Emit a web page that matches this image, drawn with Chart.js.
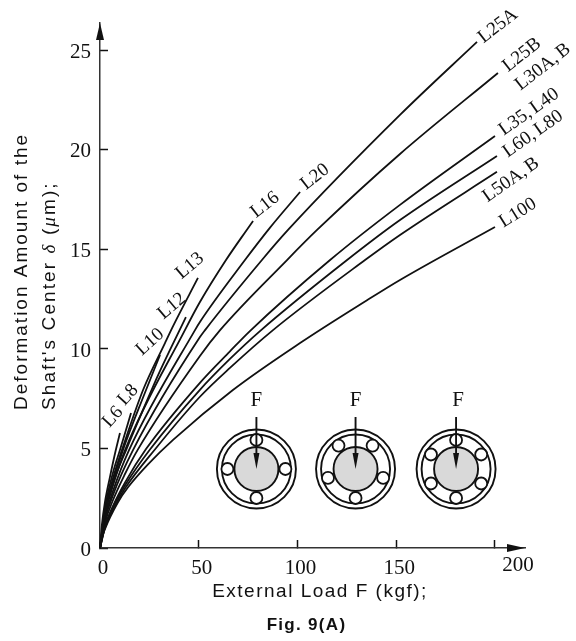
<!DOCTYPE html>
<html><head><meta charset="utf-8">
<style>html,body{margin:0;padding:0;background:#fff}canvas{display:block}</style>
<script src="https://cdn.jsdelivr.net/npm/chart.js@4"></script>
</head><body><canvas id="c" width="576" height="641"></canvas>
<script>
// Values (external load in kgf, deformation in micrometres)
const xL6  = [0,1,2.5,5,7.6,10.1];
const yL6  = [0,1.2,2.3,3.55,4.75,5.78];
const xL8  = [0,2.5,6.6,10.1,15.7];
const yL8  = [0,1.98,3.79,4.92,6.78];
const xL10 = [0,2.5,6.6,11.6,22.3,30.4];
const yL10 = [0,1.75,3.35,4.92,7.69,9.7];
const xL12 = [0,2.5,6.6,13.2,26.8,30.4,43.5];
const yL12 = [0,1.71,3.25,4.92,8.1,8.9,11.6];
const xL13 = [0,2.5,6.6,11.1,21.8,32.9,37,49.6];
const yL13 = [0,1.83,3.5,4.92,7.94,10.3,11.15,13.57];
const xL16 = [0,2.5,6.6,12.7,43,50.6,63.8,74.3,77.5];
const yL16 = [0,1.65,3.15,4.92,10.95,12.36,14.47,15.98,16.43];
const xL20 = [0,2.5,6.6,14.7,48.1,50.6,73.4,86.1,101.3];
const yL20 = [0,1.5,2.87,4.92,10.95,11.36,14.47,16.1,17.89];
const xL25A = [0,2.5,6.6,16.7,50.6,53.2,82,95.2,151.9,190.9];
const yL25A = [0,1.39,2.67,4.92,10.6,10.95,14.47,15.98,21.76,25.43];
const xL25B = [0,2.5,6.6,12.7,19,50.6,60.8,94.7,109.9,151.9,201.5];
const yL25B = [0,1.26,2.41,3.73,4.92,9.65,10.95,14.47,15.98,19.8,23.87];
const xL35 = [0,2.5,6.6,12.7,23.3,50.6,65.8,75.9,116.5,151.9,200];
const yL35 = [0,1.1,2.12,3.3,4.97,8.3,9.88,10.9,14.47,17.24,20.7];
const xL60 = [0,2.5,6.6,12.7,25.3,50.6,65.8,81,125.1,151.9,201];
const yL60 = [0,1.05,2.05,3.15,4.95,7.95,9.5,10.9,14.47,16.48,19.7];
const xL50 = [0,2.5,6.6,12.7,27.8,50.6,65.8,87.6,134.2,151.9,201];
const yL50 = [0,1.0,1.95,3.0,4.95,7.6,9.05,10.95,14.47,15.73,18.9];
const xL100 = [0,0.7,2.5,9.1,14.2,24.3,37,67.3,101.3,135.2,151.9,200];
const yL100 = [0,0.4,0.95,2.3,3.05,4.2,5.43,7.94,10.3,12.45,13.47,16.13];

const xTicks = [0,50,100,150,200];
const yTicks = [0,5,10,15,20,25];
const xTitle = "External Load F (kgf);";
const yTitle1 = "Deformation Amount of the";
const caption = "Fig. 9(A)";
const forceLabel = "F";
const bearingLoads = [79.2,129.4,180.3];
const bearingBalls = [4,5,6];

const series = [
  [xL6,yL6],[xL8,yL8],[xL10,yL10],[xL12,yL12],[xL13,yL13],[xL16,yL16],[xL20,yL20],
  [xL25A,yL25A],[xL25B,yL25B],[xL35,yL35],[xL60,yL60],[xL50,yL50],[xL100,yL100]
];
const seriesNames = ["L6","L8","L10","L12","L13","L16","L20","L25A","L25B","L35,L40","L60,L80","L50A,B","L100"];

// curve labels: text, index of the curve, offset from the curve end in pixels, rotation
const notes = [
  ["L6",0,-7,-16,-48],["L8",1,-3,-18,-48],["L10",2,-10,-13,-42],["L12",3,-14,-11,-40],
  ["L13",4,-8,-12,-40],["L16",5,12,-16,-38],["L20",6,15,-15,-38],["L25A",7,21,-16,-38],
  ["L25B",8,24,-18,-38],["L30A, B",8,45,-6,-38],["L35, L40",9,34,-24,-35],
  ["L60, L80",10,36,-22,-35],["L50A, B",11,14,8,-35],["L100",12,23,-14,-32]
];

const INK = "#111";
const SERIF = '"Liberation Serif", serif';
const SANS = '"Liberation Sans", sans-serif';

function ball(ctx,x,y,r){
  ctx.beginPath();ctx.arc(x,y,r,0,Math.PI*2);ctx.fillStyle="#fff";ctx.fill();ctx.lineWidth=1.8;ctx.stroke();
}
const overlay = {
  id:"overlay",
  afterDraw(chart){
    const ctx=chart.ctx, sx=chart.scales.x, sy=chart.scales.y;
    const ax=sx.left, ay=sy.bottom;
    ctx.save();
    ctx.strokeStyle=INK;ctx.fillStyle=INK;
    // arrow heads
    ctx.beginPath();ctx.moveTo(ax,sy.top);ctx.lineTo(ax-4,sy.top+17);ctx.lineTo(ax+4,sy.top+17);ctx.closePath();ctx.fill();
    ctx.beginPath();ctx.moveTo(sx.right,ay);ctx.lineTo(sx.right-18,ay-4);ctx.lineTo(sx.right-18,ay+4);ctx.closePath();ctx.fill();
    // last x tick label sits past its tick, beside the arrow
    ctx.font="21px "+SERIF;ctx.textAlign="center";ctx.textBaseline="middle";
    ctx.fillText(String(xTicks[xTicks.length-1]),sx.getPixelForValue(xTicks[xTicks.length-1])+23,565);
    // curve labels
    notes.forEach(([t,i,dx,dy,rot])=>{
      const s=series[i],n=s[0].length-1;
      const px=sx.getPixelForValue(s[0][n])+dx,py=sy.getPixelForValue(s[1][n])+dy;
      ctx.save();ctx.translate(px,py);ctx.rotate(rot*Math.PI/180);
      ctx.font="19px "+SERIF;ctx.wordSpacing="-2px";ctx.textAlign="center";ctx.textBaseline="middle";ctx.fillText(t,0,0);ctx.restore();
    });
    // axis titles
    ctx.font="19px "+SANS;ctx.textAlign="center";ctx.textBaseline="middle";
    ctx.letterSpacing="1.5px";
    ctx.fillText(xTitle,320,592);
    ctx.letterSpacing="2px";
    ctx.save();ctx.translate(22,410);ctx.rotate(-Math.PI/2);ctx.textAlign="left";
    ctx.fillText(yTitle1,0,0);ctx.restore();
    ctx.letterSpacing="2.1px";
    ctx.save();ctx.translate(50,410);ctx.rotate(-Math.PI/2);ctx.textAlign="left";
    let cx=0;
    [["Shaft's Center ",SANS,""],["δ",SERIF,"italic "],[" (",SANS,""],["μ",SERIF,"italic "],["m);",SANS,""]].forEach(([t,f,st])=>{
      ctx.font=st+"19px "+f;ctx.fillText(t,cx,0);cx+=ctx.measureText(t).width;
    });
    ctx.restore();
    ctx.letterSpacing="1.3px";
    ctx.font="bold 17px "+SANS;ctx.fillText(caption,306.5,625);
    ctx.letterSpacing="0px";
    // bearing sketches
    bearingLoads.forEach((load,k)=>{
      const cxp=sx.getPixelForValue(load),cyp=sy.getPixelForValue(3.97);
      ctx.lineWidth=1.9;
      ctx.beginPath();ctx.arc(cxp,cyp,39.5,0,Math.PI*2);ctx.stroke();
      ctx.beginPath();ctx.arc(cxp,cyp,34.5,0,Math.PI*2);ctx.stroke();
      ctx.beginPath();ctx.arc(cxp,cyp,22,0,Math.PI*2);ctx.fillStyle="#d9d9d9";ctx.fill();ctx.stroke();
      ctx.fillStyle=INK;
      const n=bearingBalls[k];
      for(let b=0;b<n;b++){
        const ang=Math.PI/2+b*2*Math.PI/n;
        ball(ctx,cxp+29*Math.cos(ang),cyp+29*Math.sin(ang),6);
      }
      ctx.fillStyle=INK;ctx.lineWidth=1.9;
      ctx.beginPath();ctx.moveTo(cxp,cyp-52);ctx.lineTo(cxp,cyp-12);ctx.stroke();
      ctx.beginPath();ctx.moveTo(cxp,cyp);ctx.lineTo(cxp-3,cyp-16);ctx.lineTo(cxp+3,cyp-16);ctx.closePath();ctx.fill();
      ctx.font="21px "+SERIF;ctx.textAlign="center";ctx.textBaseline="middle";
      ctx.fillText(forceLabel,cxp+(k==2?2:0),cyp-69);
    });
    ctx.restore();
  }
};

new Chart(document.getElementById("c"),{
  type:"line",
  data:{datasets:series.map((s,i)=>({
    label:seriesNames[i],
    data:s[0].map((v,j)=>({x:v,y:s[1][j]})),
    borderColor:INK,borderWidth:1.8,pointRadius:0,fill:false,
    cubicInterpolationMode:"monotone",clip:false
  }))},
  options:{
    responsive:false,animation:false,
    layout:{padding:{left:70,right:51,top:23,bottom:53}},
    plugins:{legend:{display:false},tooltip:{enabled:false},title:{display:false}},
    scales:{
      x:{type:"linear",min:0,max:215.2,
        afterFit(s){s.height=40;s.paddingLeft=0;s.paddingRight=0;},
        border:{display:true,color:"#333",width:1.5},
        grid:{drawOnChartArea:false,tickLength:-8,tickColor:INK,tickWidth:1.5},
        ticks:{stepSize:50,includeBounds:false,maxRotation:0,padding:16,labelOffset:3,color:INK,
          font:{family:"Liberation Serif",size:21},
          callback:v=>(v===xTicks[xTicks.length-1]?"":(xTicks.includes(v)?String(v):""))}
      },
      y:{type:"linear",min:0,max:26.38,
        afterFit(s){s.width=30;s.paddingTop=0;s.paddingBottom=0;},
        border:{display:true,color:"#333",width:1.5},
        grid:{drawOnChartArea:false,tickLength:-8,tickColor:INK,tickWidth:1.5},
        ticks:{stepSize:5,includeBounds:false,padding:17,labelOffset:2,color:INK,
          font:{family:"Liberation Serif",size:21},
          callback:v=>(yTicks.includes(v)?String(v):"")}
      }
    }
  },
  plugins:[overlay]
});
</script></body></html>
